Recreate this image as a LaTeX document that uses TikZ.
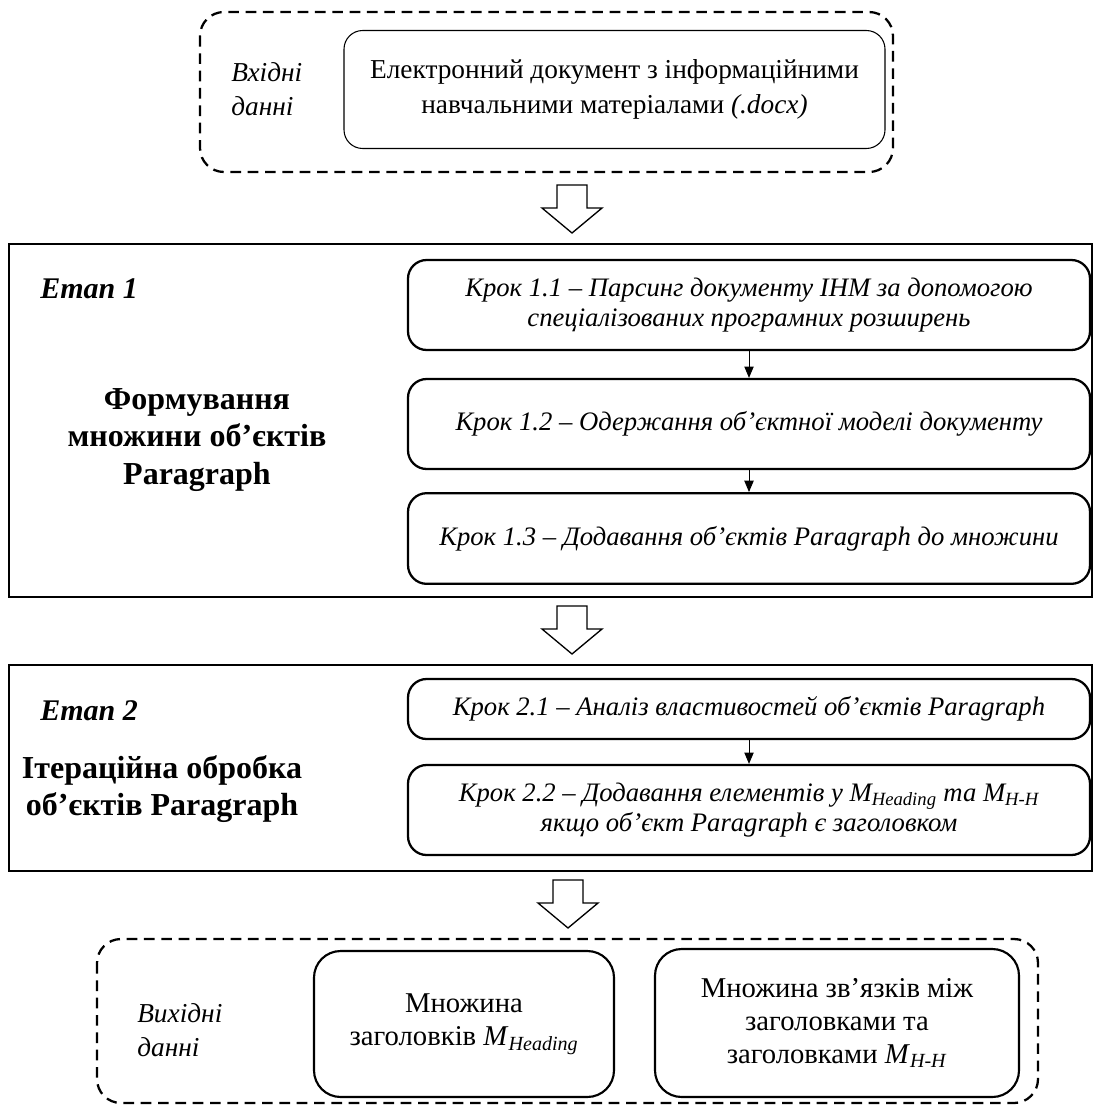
\documentclass[tikz,border=0pt]{standalone}
\usepackage{fontspec}
\setmainfont{Liberation Serif}
\usetikzlibrary{arrows.meta}
\begin{document}
\begin{tikzpicture}[x=0.75pt,y=-0.75pt,
  dashframe/.style={draw, line width=1.7pt, dash pattern=on 8pt off 5pt, rounded corners=18pt},
  stageframe/.style={draw, line width=2.2pt},
  docbox/.style={draw, line width=0.8pt, rounded corners=14pt, align=center, inner sep=0pt},
  stepbox/.style={draw, line width=1.7pt, rounded corners=14pt, align=center, inner sep=0pt,
    minimum width=511.5pt, font=\fontsize{20}{22.5}\selectfont\itshape},
  outbox/.style={draw, line width=1.6pt, rounded corners=20pt, align=center, inner sep=0pt,
    font=\fontsize{21.5}{25}\selectfont},
  sidelabel/.style={anchor=west, align=left, inner sep=0pt, font=\fontsize{20.5}{26}\selectfont\itshape},
  stagetitle/.style={anchor=west, inner sep=0pt, font=\fontsize{22.5}{26}\selectfont\bfseries\itshape},
  stagename/.style={align=center, inner sep=0pt, font=\fontsize{24}{28}\selectfont\bfseries},
  flow/.style={-{Triangle[length=8.5pt,width=7pt]}, line width=0.7pt},
  blockarrow/.style={draw, line width=1pt, fill=white, line join=miter}
]
\useasboundingbox (0,0) rectangle (1094,1106);

% input data
\draw[dashframe] (200,12) rectangle (893,172);
\node[sidelabel] (inlabel) at (231,89) {Вхідні\\данні};
\node[docbox, minimum width=405.75pt, minimum height=88.5pt,
  font=\fontsize{20.5}{26}\selectfont] (indoc) at (614.5,89.5)
  {Електронний документ з інформаційними\\навчальними матеріалами \textit{(.docx)}};

% block arrow between sections
\newcommand\downblock[1]{%
  \draw[blockarrow] (#1) ++(-15,0) -- ++(30,0) -- ++(0,23) -- ++(15,0)
    -- ++(-30,25) -- ++(-30,-25) -- ++(15,0) -- cycle;}
\coordinate (ar1) at (572,185);
\downblock{ar1}

% stage 1
\draw[stageframe] (9,244) rectangle (1092,597);
\node[stagetitle] (st1) at (40,289) {Етап 1};
\node[stagename] (st1name) at (197,440) {Формування\\множини об’єктів\\Paragraph};
\node[stepbox, minimum height=67.5pt] (s11) at (749,305)
  {Крок 1.1 – Парсинг документу ІНМ за допомогою\\спеціалізованих програмних розширень};
\node[stepbox, minimum height=67.5pt] (s12) at (749,424)
  {Крок 1.2 – Одержання об’єктної моделі документу};
\node[stepbox, minimum height=68pt] (s13) at (749,538.5)
  {Крок 1.3 – Додавання об’єктів Paragraph до множини};
\draw[flow] (s11) -- (s12);
\draw[flow] (s12) -- (s13);

\coordinate (ar2) at (572,606);
\downblock{ar2}

% stage 2
\draw[stageframe] (9,665) rectangle (1092,871);
\node[stagetitle] (st2) at (40,711) {Етап 2};
\node[stagename] (st2name) at (162,789) {Ітераційна обробка\\об’єктів Paragraph};
\node[stepbox, minimum height=45pt] (s21) at (749,709)
  {Крок 2.1 – Аналіз властивостей об’єктів Paragraph};
\node[stepbox, minimum height=67.5pt] (s22) at (749,810)
  {Крок 2.2 – Додавання елементів у M\textsubscript{Heading} та M\textsubscript{H-H}\\якщо об’єкт Paragraph є заголовком};
\draw[flow] (s21) -- (s22);

\coordinate (ar3) at (568,880);
\downblock{ar3}

% output data
\draw[dashframe] (97,939) rectangle (1038,1103);
\node[sidelabel] (outlabel) at (137,1030) {Вихідні\\данні};
\node[outbox, minimum width=225pt, minimum height=109.5pt] (outA) at (464,1024)
  {Множина\\заголовків \textit{M}\textsubscript{\textit{Heading}}};
\node[outbox, minimum width=273pt, minimum height=111pt] (outB) at (837,1023)
  {Множина зв’язків між\\заголовками та\\заголовками \textit{M}\textsubscript{\textit{H-H}}};
\end{tikzpicture}
\end{document}
